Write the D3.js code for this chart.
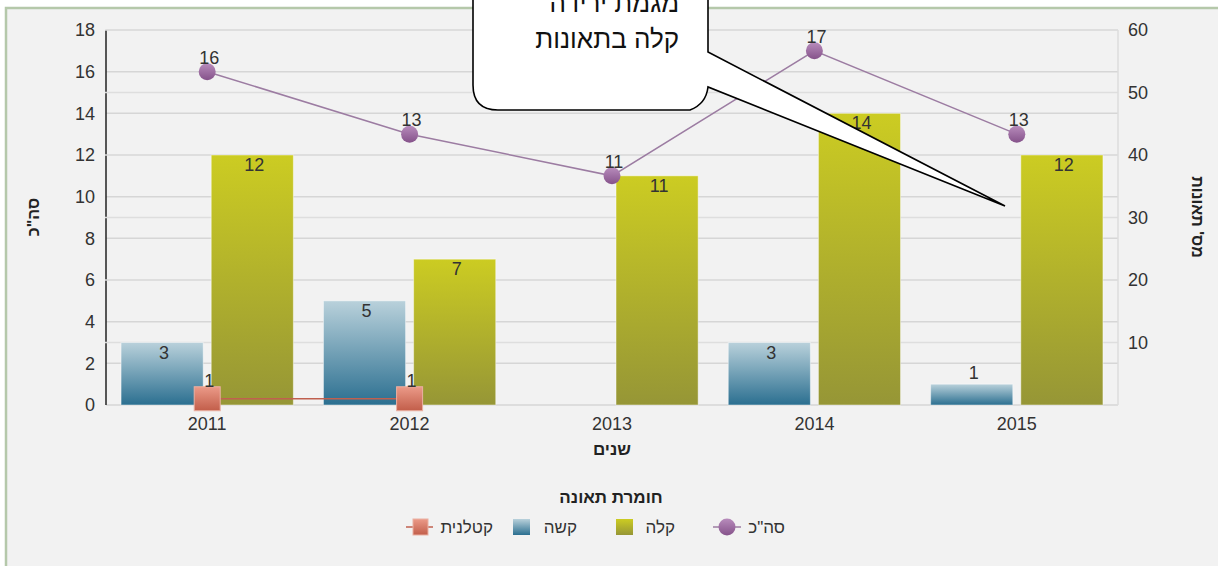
<!DOCTYPE html>
<html><head><meta charset="utf-8">
<script src="https://cdn.jsdelivr.net/npm/d3@7"></script>
<style>html,body{margin:0;padding:0;background:#fff;}svg{display:block;font-family:"Liberation Sans",Arial,sans-serif;}</style>
</head><body>
<svg id="c" width="1218" height="566"></svg>
<script>
const years = ['2011','2012','2013','2014','2015'];
const hardValues = [3,5,null,3,1];          // קשה
const lightValues = [12,7,11,14,12];        // קלה
const fatalValues = [1,1,null,null,null];   // קטלנית (right axis)
const totalValues = [16,13,11,17,13];       // סה"כ
const leftTicks = [0,2,4,6,8,10,12,14,16,18];
const rightTicks = [10,20,30,40,50,60];
const xTitle = 'שנים';
const yLeftTitle = 'סה"כ';
const yRightTitle = "מס' תאונות";
const legendTitle = 'חומרת תאונה';
const legendLabels = ['סה"כ','קלה','קשה','קטלנית'];
const calloutLines = ['מגמת ירידה','קלה בתאונות'];

const svg = d3.select('#c');
const W = 1218, H = 566;
const L = 106, R = 1118, T = 30, B = 405;

const defs = svg.append('defs');
function grad(id, c1, c2){
  const g = defs.append('linearGradient').attr('id',id).attr('x1',0).attr('y1',0).attr('x2',0).attr('y2',1);
  g.append('stop').attr('offset','0%').attr('stop-color',c1);
  g.append('stop').attr('offset','100%').attr('stop-color',c2);
}
grad('gLight','#cccc22','#969636');
grad('gHard','#b9d1db','#2b6f90');
grad('gFatal','#eb9a88','#c25e4a');
grad('gTotal','#b88cbc','#85528a');

// background + frame
svg.append('rect').attr('width',W).attr('height',H).attr('fill','#fff');
svg.append('rect').attr('x',6).attr('y',8).attr('width',W).attr('height',H).attr('fill','#f2f2f2')
  .attr('stroke','#b5c8aa').attr('stroke-width',2.5);

const x = d3.scaleBand().domain(years).range([L,R]).padding(0);
const x1 = d3.scaleBand().domain(['hard','light']).range([0,x.bandwidth()]).paddingInner(0.089).paddingOuter(0.167);
const yL = d3.scaleLinear().domain([0,18]).range([B,T]);
const yR = d3.scaleLinear().domain([0,60]).range([B,T]);

// left gridlines
svg.append('g').selectAll('line').data(leftTicks).join('line')
  .attr('x1',L).attr('x2',R).attr('y1',d=>yL(d)).attr('y2',d=>yL(d))
  .attr('stroke','#d6d6d6').attr('stroke-width',1.5);
// left axis line
svg.append('line').attr('x1',L).attr('x2',L).attr('y1',T).attr('y2',B).attr('stroke','#222').attr('stroke-width',1.5);
// right gridlines
svg.append('g').selectAll('line').data(rightTicks).join('line')
  .attr('x1',L-1).attr('x2',R).attr('y1',d=>yR(d)).attr('y2',d=>yR(d))
  .attr('stroke','#dedede').attr('stroke-width',1.5);
// right axis line
svg.append('line').attr('x1',R).attr('x2',R).attr('y1',T).attr('y2',B).attr('stroke','#dcdcdc').attr('stroke-width',1.5);

const tickFont = '"Liberation Sans",Arial,sans-serif';
const axL = svg.append('g').attr('transform',`translate(${L},0)`)
  .call(d3.axisLeft(yL).tickValues(leftTicks).tickSize(0).tickPadding(11));
axL.select('.domain').remove();
axL.selectAll('text').attr('font-size',18).attr('fill','#333').attr('font-family',tickFont);
const axR = svg.append('g').attr('transform',`translate(${R},0)`)
  .call(d3.axisRight(yR).tickValues(rightTicks).tickSize(0).tickPadding(10));
axR.select('.domain').remove();
axR.selectAll('text').attr('font-size',18).attr('fill','#333').attr('font-family',tickFont);
const axX = svg.append('g').attr('transform',`translate(0,${B})`)
  .call(d3.axisBottom(x).tickSize(0).tickPadding(12));
axX.select('.domain').remove();
axX.selectAll('text').attr('font-size',18).attr('fill','#333').attr('font-family',tickFont);

// bars
const rows = years.map((y,i)=>({year:y, hard:hardValues[i], light:lightValues[i]}));
const series = [{key:'hard',fill:'url(#gHard)'},{key:'light',fill:'url(#gLight)'}];
series.forEach(s=>{
  const data = rows.filter(r=>r[s.key]!=null);
  svg.append('g').selectAll('rect').data(data).join('rect')
    .attr('x',d=>x(d.year)+x1(s.key)).attr('width',x1.bandwidth())
    .attr('y',d=>yL(d[s.key])).attr('height',d=>B-yL(d[s.key]))
    .attr('fill',s.fill).attr('stroke','#ffffff').attr('stroke-opacity',0.45).attr('stroke-width',1);
  svg.append('g').selectAll('text').data(data).join('text')
    .attr('x',d=>x(d.year)+x1(s.key)+x1.bandwidth()/2+2)
    .attr('y',d=>{const top=yL(d[s.key]); return (B-top)<30 ? top-5 : top+16;})
    .attr('text-anchor','middle').attr('font-size',18).attr('fill','#333')
    .text(d=>d[s.key]);
});

// fatal line (right axis)
const fatal = years.map((y,i)=>({year:y,v:fatalValues[i]})).filter(d=>d.v!=null);
svg.append('path').datum(fatal)
  .attr('d',d3.line().x(d=>x(d.year)+x.bandwidth()/2).y(d=>yR(d.v)))
  .attr('fill','none').attr('stroke','#c0604f').attr('stroke-width',1.5);
svg.append('g').selectAll('rect').data(fatal).join('rect')
  .attr('x',d=>x(d.year)+x.bandwidth()/2-13).attr('y',d=>yR(d.v)-12)
  .attr('width',26).attr('height',24).attr('fill','url(#gFatal)').attr('stroke','#eab0a2').attr('stroke-width',1);
svg.append('g').selectAll('text').data(fatal).join('text')
  .attr('x',d=>x(d.year)+x.bandwidth()/2+2).attr('y',d=>yR(d.v)-12)
  .attr('text-anchor','middle').attr('font-size',18).attr('fill','#333').text(d=>d.v);

// total line (left axis)
const total = years.map((y,i)=>({year:y,v:totalValues[i]}));
svg.append('path').datum(total)
  .attr('d',d3.line().x(d=>x(d.year)+x.bandwidth()/2).y(d=>yL(d.v)))
  .attr('fill','none').attr('stroke','#9c7ca2').attr('stroke-width',1.5);
svg.append('g').selectAll('circle').data(total).join('circle')
  .attr('cx',d=>x(d.year)+x.bandwidth()/2).attr('cy',d=>yL(d.v)).attr('r',8.5)
  .attr('fill','url(#gTotal)');
svg.append('g').selectAll('text').data(total).join('text')
  .attr('x',d=>x(d.year)+x.bandwidth()/2+2).attr('y',d=>yL(d.v)-8)
  .attr('text-anchor','middle').attr('font-size',18).attr('fill','#333').text(d=>d.v);

// axis titles
svg.append('text').attr('x',612).attr('y',455).attr('text-anchor','middle').attr('font-size',17)
  .attr('font-weight','bold').attr('fill','#222').text(xTitle);
svg.append('text').attr('transform','translate(39,217) rotate(-90)').attr('text-anchor','middle')
  .attr('font-size',16).attr('font-weight','bold').attr('fill','#222').text(yLeftTitle);
svg.append('text').attr('transform','translate(1192,217) rotate(90)').attr('text-anchor','middle')
  .attr('font-size',16).attr('font-weight','bold').attr('fill','#222').text(yRightTitle);

// legend
svg.append('text').attr('x',611).attr('y',503).attr('text-anchor','middle').attr('font-size',17)
  .attr('font-weight','bold').attr('fill','#222').text(legendTitle);
const lg = svg.append('g');
const ly = 527;
const textRight = [785,675,577,493];
legendLabels.forEach((t,i)=>{
  lg.append('text').attr('x',textRight[i]).attr('y',ly+6).attr('direction','rtl').attr('text-anchor','start')
    .attr('font-size',17).attr('fill','#333').text(t);
});
lg.append('line').attr('x1',713).attr('x2',741).attr('y1',ly).attr('y2',ly).attr('stroke','#9c7ca2').attr('stroke-width',1.5);
lg.append('circle').attr('cx',727).attr('cy',ly).attr('r',8.5).attr('fill','url(#gTotal)');
lg.append('rect').attr('x',616).attr('y',ly-8).attr('width',17).attr('height',16).attr('fill','url(#gLight)');
lg.append('rect').attr('x',513).attr('y',ly-8).attr('width',17).attr('height',16).attr('fill','url(#gHard)');
lg.append('line').attr('x1',406).attr('x2',433).attr('y1',ly).attr('y2',ly).attr('stroke','#c0604f').attr('stroke-width',1.5);
lg.append('rect').attr('x',413).attr('y',ly-8).attr('width',15).attr('height',16).attr('fill','url(#gFatal)').attr('stroke','#eab0a2');

// callout
const cp = 'M498,-40 H683 Q708,-40 708,-15 V52 L1005,206 L708,87 Q706,104 690,110 H498 Q473,110 473,85 V-15 Q473,-40 498,-40 Z';
svg.append('path').attr('d',cp).attr('fill','#fff').attr('stroke','#000').attr('stroke-width',1.6);
calloutLines.forEach((t,i)=>{
  svg.append('text').attr('x',679).attr('y',12+i*36).attr('direction','rtl').attr('text-anchor','start')
    .attr('font-size',26).attr('fill','#111').text(t);
});
</script>
</body></html>
